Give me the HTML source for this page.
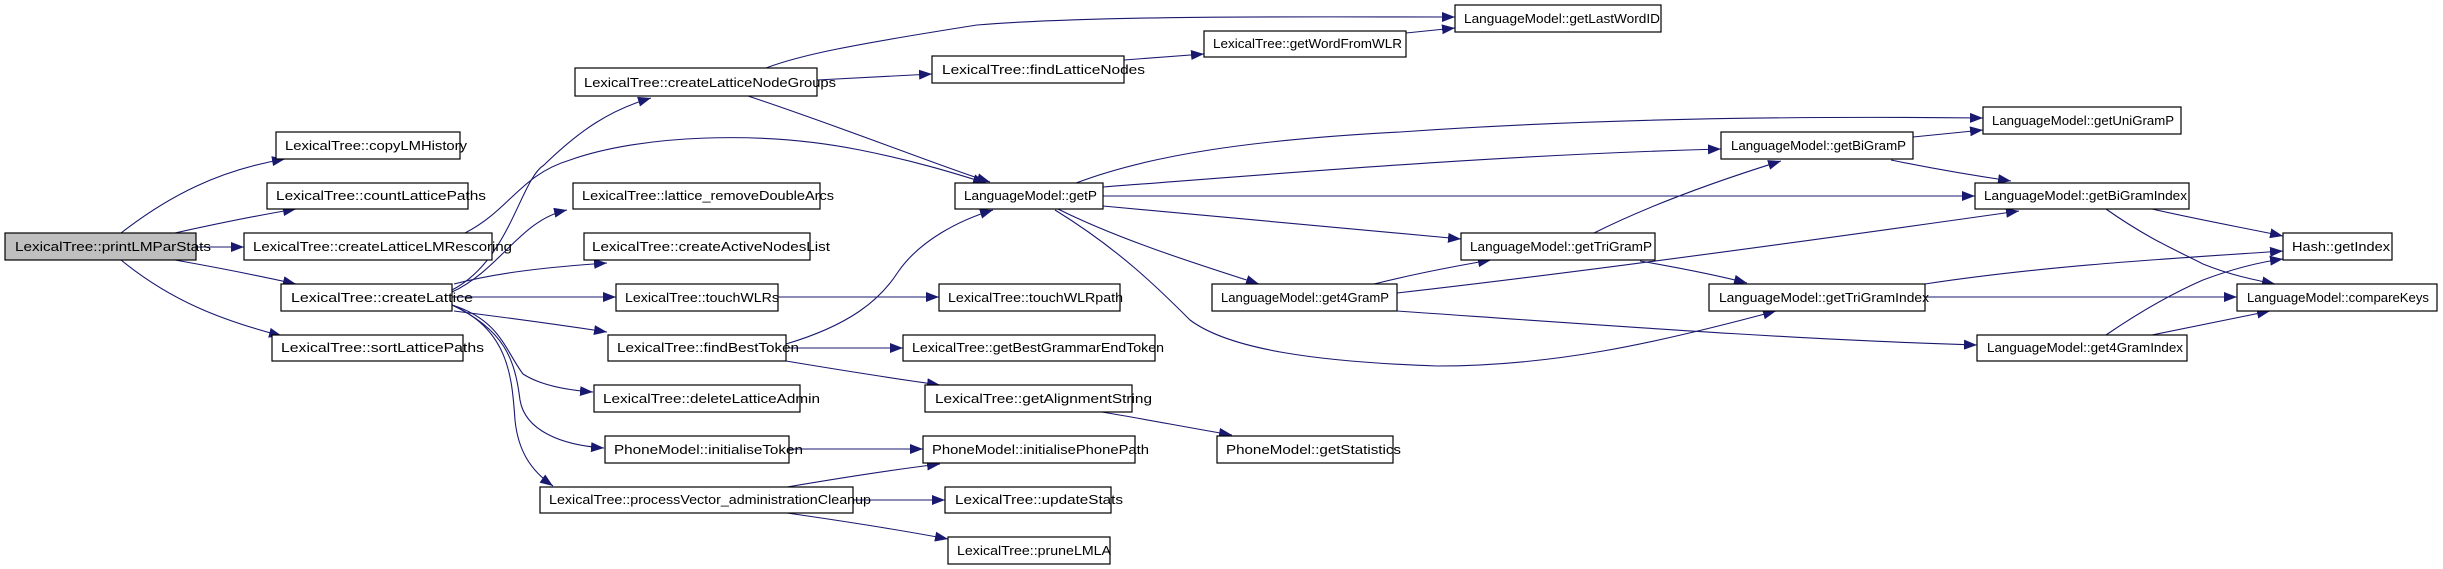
<!DOCTYPE html>
<html><head><meta charset="utf-8"><style>
html,body{margin:0;padding:0;background:#fff}
svg{display:block}
text{font-family:"Liberation Sans",sans-serif;font-size:12.5px;fill:#000}
</style></head><body>
<svg width="2443" height="569" viewBox="0 0 2443 569" xmlns="http://www.w3.org/2000/svg">
<defs>
<marker id="a" markerUnits="userSpaceOnUse" markerWidth="14" markerHeight="10" refX="13" refY="5" orient="auto">
<path d="M0,0 L13,5 L0,10 Z" fill="#191970"/>
</marker>
</defs>
<g fill="none" stroke="#191970" stroke-width="1.1" marker-end="url(#a)">
<!-- printLMParStats -->
<path d="M121,233 C170,195 220,170 285,159"/>
<path d="M175,233 C220,223 260,215 296,209"/>
<path d="M196,247 L244,247"/>
<path d="M175,260 C220,268 260,276 296,284"/>
<path d="M121,260 C170,300 220,320 282,336"/>
<!-- createLatticeLMRescoring -> getP -->
<path d="M465,233 C510,210 520,175 570,160 C640,135 760,130 860,150 C920,162 960,175 986,183"/>
<!-- createLattice outgoing -->
<path d="M452,290 C510,260 520,180 544,165 C580,130 610,110 651,98"/>
<path d="M452,292 C500,270 520,220 567,210"/>
<path d="M454,284 C500,272 550,267 607,263"/>
<path d="M452,297 L616,297"/>
<path d="M454,311 C510,318 560,325 607,332"/>
<path d="M452,305 C500,320 505,350 523,374 C540,385 565,390 593,392"/>
<path d="M452,305 C505,330 515,360 520,400 C525,430 560,445 604,448"/>
<path d="M452,305 C510,330 512,380 515,420 C518,450 530,470 553,486"/>
<!-- createLatticeNodeGroups -->
<path d="M766,68 C800,55 850,45 977,25 C1100,15 1300,17 1455,17"/>
<path d="M817,80 L932,74"/>
<path d="M748,96 C850,130 950,170 990,182"/>
<path d="M1124,60 L1204,54"/>
<path d="M1406,33 L1455,28"/>
<path d="M778,297 L939,297"/>
<!-- findBestToken -->
<path d="M786,344 C850,325 880,300 898,272 C920,240 960,220 993,210"/>
<path d="M786,348 L903,348"/>
<path d="M786,361 C840,370 890,378 940,385"/>
<path d="M789,449 L923,449"/>
<path d="M787,487 C840,478 890,470 940,464"/>
<path d="M853,500 L945,500"/>
<path d="M787,513 C850,522 900,530 948,539"/>
<path d="M1102,412 C1150,420 1190,428 1232,435"/>
<!-- getP -->
<path d="M1076,183 C1150,155 1250,140 1400,132 C1600,118 1800,116 1983,118"/>
<path d="M1103,187 C1300,172 1500,155 1721,149"/>
<path d="M1103,196 L1975,196"/>
<path d="M1103,206 C1250,220 1380,232 1461,239"/>
<path d="M1058,209 C1120,240 1200,265 1259,284"/>
<path d="M1055,210 C1120,250 1160,290 1190,320 C1230,350 1320,362 1437,366 C1550,366 1650,345 1776,311"/>
<!-- getTriGramP / get4GramP -->
<path d="M1594,233 C1650,205 1720,180 1781,161"/>
<path d="M1640,261 C1680,268 1720,276 1747,283"/>
<path d="M1374,284 C1410,275 1450,267 1491,260"/>
<path d="M1397,293 C1600,270 1850,235 2019,211"/>
<path d="M1397,311 C1600,325 1800,340 1977,345"/>
<!-- getBiGramP -->
<path d="M1913,137 L1983,130"/>
<path d="M1891,160 C1930,168 1970,175 2011,181"/>
<!-- getBiGramIndex -->
<path d="M2152,209 C2200,220 2245,228 2283,236"/>
<path d="M2106,209 C2150,240 2180,252 2203,264 C2230,275 2255,280 2275,284"/>
<!-- getTriGramIndex -->
<path d="M1925,284 C2050,265 2180,258 2283,251"/>
<path d="M1925,297 L2237,297"/>
<!-- get4GramIndex -->
<path d="M2106,335 C2150,305 2180,290 2203,280 C2235,268 2260,262 2283,259"/>
<path d="M2152,335 C2200,325 2240,317 2270,311"/>
</g>
<g stroke="#000" stroke-width="1.2">
<rect x="5" y="233" width="191" height="27" fill="#bfbfbf"/>
<rect x="276" y="132" width="184" height="27" fill="#fff"/>
<rect x="267" y="183" width="201" height="26" fill="#fff"/>
<rect x="244" y="233" width="248" height="27" fill="#fff"/>
<rect x="281" y="284" width="171" height="27" fill="#fff"/>
<rect x="272" y="335" width="191" height="26" fill="#fff"/>
<rect x="575" y="68" width="242" height="28" fill="#fff"/>
<rect x="573" y="183" width="247" height="26" fill="#fff"/>
<rect x="584" y="233" width="226" height="27" fill="#fff"/>
<rect x="616" y="284" width="162" height="27" fill="#fff"/>
<rect x="608" y="335" width="178" height="26" fill="#fff"/>
<rect x="594" y="385" width="206" height="27" fill="#fff"/>
<rect x="605" y="436" width="184" height="27" fill="#fff"/>
<rect x="540" y="487" width="313" height="26" fill="#fff"/>
<rect x="1455" y="5" width="206" height="27" fill="#fff"/>
<rect x="1204" y="31" width="202" height="26" fill="#fff"/>
<rect x="932" y="56" width="192" height="27" fill="#fff"/>
<rect x="955" y="183" width="148" height="26" fill="#fff"/>
<rect x="939" y="284" width="181" height="27" fill="#fff"/>
<rect x="903" y="335" width="252" height="26" fill="#fff"/>
<rect x="925" y="385" width="207" height="27" fill="#fff"/>
<rect x="923" y="436" width="212" height="27" fill="#fff"/>
<rect x="945" y="487" width="166" height="26" fill="#fff"/>
<rect x="948" y="537" width="162" height="27" fill="#fff"/>
<rect x="1217" y="436" width="176" height="27" fill="#fff"/>
<rect x="1212" y="284" width="185" height="27" fill="#fff"/>
<rect x="1461" y="233" width="194" height="27" fill="#fff"/>
<rect x="1983" y="107" width="198" height="27" fill="#fff"/>
<rect x="1721" y="132" width="192" height="27" fill="#fff"/>
<rect x="1975" y="183" width="214" height="26" fill="#fff"/>
<rect x="2283" y="233" width="109" height="27" fill="#fff"/>
<rect x="1709" y="284" width="216" height="27" fill="#fff"/>
<rect x="2237" y="284" width="200" height="27" fill="#fff"/>
<rect x="1977" y="335" width="210" height="26" fill="#fff"/>
</g>
<g>
<text x="15" y="251" textLength="196" lengthAdjust="spacingAndGlyphs">LexicalTree::printLMParStats</text>
<text x="285" y="150" textLength="182" lengthAdjust="spacingAndGlyphs">LexicalTree::copyLMHistory</text>
<text x="276" y="200" textLength="210" lengthAdjust="spacingAndGlyphs">LexicalTree::countLatticePaths</text>
<text x="253" y="251" textLength="259" lengthAdjust="spacingAndGlyphs">LexicalTree::createLatticeLMRescoring</text>
<text x="291" y="302" textLength="182" lengthAdjust="spacingAndGlyphs">LexicalTree::createLattice</text>
<text x="281" y="352" textLength="203" lengthAdjust="spacingAndGlyphs">LexicalTree::sortLatticePaths</text>
<text x="584" y="87" textLength="252" lengthAdjust="spacingAndGlyphs">LexicalTree::createLatticeNodeGroups</text>
<text x="582" y="200" textLength="252" lengthAdjust="spacingAndGlyphs">LexicalTree::lattice_removeDoubleArcs</text>
<text x="592" y="251" textLength="238" lengthAdjust="spacingAndGlyphs">LexicalTree::createActiveNodesList</text>
<text x="625" y="302" textLength="154" lengthAdjust="spacingAndGlyphs">LexicalTree::touchWLRs</text>
<text x="617" y="352" textLength="182" lengthAdjust="spacingAndGlyphs">LexicalTree::findBestToken</text>
<text x="603" y="403" textLength="217" lengthAdjust="spacingAndGlyphs">LexicalTree::deleteLatticeAdmin</text>
<text x="614" y="454" textLength="189" lengthAdjust="spacingAndGlyphs">PhoneModel::initialiseToken</text>
<text x="549" y="504" textLength="322" lengthAdjust="spacingAndGlyphs">LexicalTree::processVector_administrationCleanup</text>
<text x="1464" y="23" textLength="196" lengthAdjust="spacingAndGlyphs">LanguageModel::getLastWordID</text>
<text x="1213" y="48" textLength="189" lengthAdjust="spacingAndGlyphs">LexicalTree::getWordFromWLR</text>
<text x="942" y="74" textLength="203" lengthAdjust="spacingAndGlyphs">LexicalTree::findLatticeNodes</text>
<text x="964" y="200" textLength="133" lengthAdjust="spacingAndGlyphs">LanguageModel::getP</text>
<text x="948" y="302" textLength="175" lengthAdjust="spacingAndGlyphs">LexicalTree::touchWLRpath</text>
<text x="912" y="352" textLength="252" lengthAdjust="spacingAndGlyphs">LexicalTree::getBestGrammarEndToken</text>
<text x="935" y="403" textLength="217" lengthAdjust="spacingAndGlyphs">LexicalTree::getAlignmentString</text>
<text x="932" y="454" textLength="217" lengthAdjust="spacingAndGlyphs">PhoneModel::initialisePhonePath</text>
<text x="955" y="504" textLength="168" lengthAdjust="spacingAndGlyphs">LexicalTree::updateStats</text>
<text x="957" y="555" textLength="154" lengthAdjust="spacingAndGlyphs">LexicalTree::pruneLMLA</text>
<text x="1226" y="454" textLength="175" lengthAdjust="spacingAndGlyphs">PhoneModel::getStatistics</text>
<text x="1221" y="302" textLength="168" lengthAdjust="spacingAndGlyphs">LanguageModel::get4GramP</text>
<text x="1470" y="251" textLength="182" lengthAdjust="spacingAndGlyphs">LanguageModel::getTriGramP</text>
<text x="1992" y="125" textLength="182" lengthAdjust="spacingAndGlyphs">LanguageModel::getUniGramP</text>
<text x="1731" y="150" textLength="175" lengthAdjust="spacingAndGlyphs">LanguageModel::getBiGramP</text>
<text x="1984" y="200" textLength="203" lengthAdjust="spacingAndGlyphs">LanguageModel::getBiGramIndex</text>
<text x="2292" y="251" textLength="98" lengthAdjust="spacingAndGlyphs">Hash::getIndex</text>
<text x="1719" y="302" textLength="210" lengthAdjust="spacingAndGlyphs">LanguageModel::getTriGramIndex</text>
<text x="2247" y="302" textLength="182" lengthAdjust="spacingAndGlyphs">LanguageModel::compareKeys</text>
<text x="1987" y="352" textLength="196" lengthAdjust="spacingAndGlyphs">LanguageModel::get4GramIndex</text>
</g>
</svg>
</body></html>
